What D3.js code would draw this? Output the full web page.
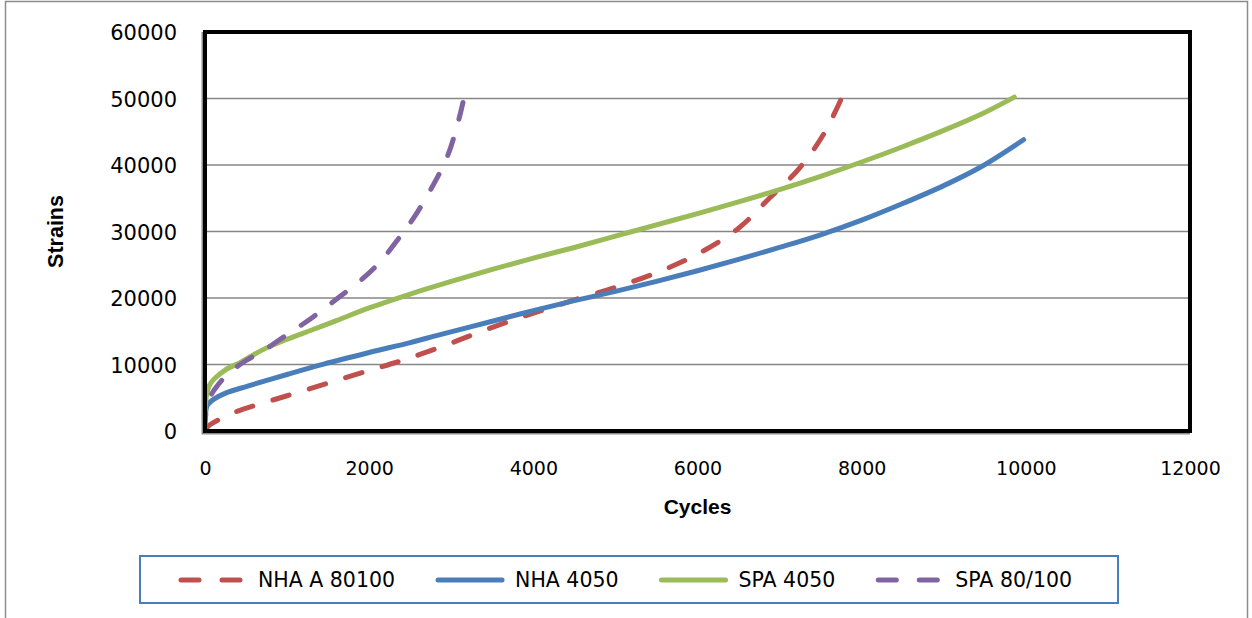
<!DOCTYPE html>
<html>
<head>
<meta charset="utf-8">
<script src="https://cdn.jsdelivr.net/npm/d3@7/dist/d3.min.js"></script>
<style>
  html, body { margin: 0; padding: 0; background: #ffffff; }
  svg { display: block; }
</style>
</head>
<body>
<svg id="chart" width="1252" height="618"></svg>
<script>
// Series: [cycles, strains]
const nhaA80100 = [
  [0, 0], [36, 700], [200, 1900], [400, 3000], [650, 4000], [1000, 5300],
  [1500, 7200], [2000, 9100], [2400, 10600], [2866, 12600], [3350, 14900],
  [3800, 16900], [4200, 18500], [4600, 20100], [5000, 21600], [5500, 23800],
  [6000, 26600], [6500, 30500], [6875, 35000], [7240, 39500],
  [7540, 44700], [7760, 50200]
];
const nha4050 = [
  [0, 1500], [10, 3000], [30, 3900], [109, 4800], [250, 5700], [520, 6750],
  [1000, 8500], [1445, 10050], [2000, 11800], [2500, 13300], [2866, 14500],
  [3500, 16500], [4000, 18100], [4500, 19600], [5000, 21000], [5500, 22500],
  [6000, 24100], [6500, 25800], [7000, 27600], [7500, 29500], [8000, 31700],
  [8500, 34200], [9000, 36900], [9450, 39700], [9972, 43800]
];
const spa4050 = [
  [0, 3000], [20, 5500], [50, 6800], [109, 7800], [250, 9200], [437, 10350],
  [700, 12200], [1000, 13800], [1324, 15300], [1600, 16600], [2000, 18500],
  [2500, 20600], [3000, 22500], [3500, 24300], [4000, 26000], [4500, 27600],
  [5000, 29300], [5500, 31000], [6000, 32700], [6500, 34450], [7000, 36300],
  [7500, 38300], [8000, 40450], [8500, 42750], [9000, 45200], [9500, 47900],
  [9860, 50200]
];
const spa80100 = [
  [0, 0], [10, 2500], [50, 4800], [150, 6800], [300, 8800], [500, 10600],
  [700, 12000], [1000, 14500], [1300, 17000], [1600, 19800], [1900, 22700],
  [2138, 25500], [2380, 29300], [2540, 32000], [2745, 36200], [2950, 41200],
  [3085, 46500], [3150, 49800]
];

const seriesNames = ["NHA A 80100", "NHA 4050", "SPA 4050", "SPA 80/100"];
const seriesData = [nhaA80100, nha4050, spa4050, spa80100];
const seriesColors = ["#c0504d", "#4a7ebb", "#9bbb59", "#8064a2"];
const seriesDashed = [true, false, false, true];

const xTicks = [0, 2000, 4000, 6000, 8000, 10000, 12000];
const yTicks = [0, 10000, 20000, 30000, 40000, 50000, 60000];
const xTitle = "Cycles";
const yTitle = "Strains";

const svg = d3.select("#chart");

// Outer chart frame
svg.append("rect")
  .attr("x", 5.5).attr("y", 1.5)
  .attr("width", 1242).attr("height", 640)
  .attr("fill", "none").attr("stroke", "#8c8c8c").attr("stroke-width", 1.5);

const plot = { left: 205, right: 1190, top: 32, bottom: 431 };

const x = d3.scaleLinear().domain([0, 12000]).range([plot.left, plot.right]);
const y = d3.scaleLinear().domain([0, 60000]).range([plot.bottom, plot.top]);

// Horizontal gridlines
svg.append("g")
  .selectAll("line")
  .data(yTicks.filter(t => t > 0 && t < 60000))
  .join("line")
  .attr("x1", plot.left).attr("x2", plot.right)
  .attr("y1", d => y(d)).attr("y2", d => y(d))
  .attr("stroke", "#868686").attr("stroke-width", 1.5);

// Y axis labels
const yAxis = d3.axisLeft(y).tickValues(yTicks).tickSize(0).tickPadding(0)
  .tickFormat(d3.format("d"));
const gy = svg.append("g").attr("transform", `translate(177,0)`).call(yAxis);
gy.select(".domain").remove();
gy.selectAll("text")
  .attr("font-family", "DejaVu Sans")
  .attr("font-size", 21)
  .attr("fill", "#000")
  .attr("dy", "0.36em");

// X axis labels
const xAxis = d3.axisBottom(x).tickValues(xTicks).tickSize(0).tickPadding(0)
  .tickFormat(d3.format("d"));
const gx = svg.append("g").attr("transform", `translate(0,461)`).call(xAxis);
gx.select(".domain").remove();
gx.selectAll("text")
  .attr("font-family", "DejaVu Sans")
  .attr("font-size", 19)
  .attr("fill", "#000")
  .attr("dy", "0.72em");

// Axis titles
svg.append("text")
  .attr("x", (plot.left + plot.right) / 2).attr("y", 514)
  .attr("text-anchor", "middle")
  .attr("font-family", "Liberation Sans, Arial, sans-serif")
  .attr("font-weight", "bold").attr("font-size", 21)
  .text(xTitle);
svg.append("text")
  .attr("transform", `translate(63,${(plot.top + plot.bottom) / 2}) rotate(-90)`)
  .attr("text-anchor", "middle")
  .attr("font-family", "Liberation Sans, Arial, sans-serif")
  .attr("font-weight", "bold").attr("font-size", 21.5)
  .text(yTitle);

// Series lines
const line = d3.line()
  .x(d => x(d[0]))
  .y(d => y(d[1]))
  .curve(d3.curveCatmullRom.alpha(0.5));

const gLines = svg.append("g");
seriesData.forEach((data, i) => {
  gLines.append("path")
    .datum(data)
    .attr("d", line)
    .attr("fill", "none")
    .attr("stroke", seriesColors[i])
    .attr("stroke-width", 5)
    .attr("stroke-linecap", "round")
    .attr("stroke-linejoin", "round")
    .attr("stroke-dasharray", seriesDashed[i] ? "17,21" : null);
});

// Plot area border with soft grey edge on left and bottom
svg.append("path")
  .attr("d", `M${plot.left - 2.5},${plot.top} L${plot.left - 2.5},${plot.bottom + 2.5} L${plot.right},${plot.bottom + 2.5}`)
  .attr("fill", "none").attr("stroke", "#8c8c8c").attr("stroke-width", 2);
svg.append("rect")
  .attr("x", plot.left).attr("y", plot.top)
  .attr("width", plot.right - plot.left).attr("height", plot.bottom - plot.top)
  .attr("fill", "none").attr("stroke", "#000").attr("stroke-width", 4);

// Legend
const legendBox = { x: 140, y: 556, w: 978, h: 47 };
svg.append("rect")
  .attr("x", legendBox.x).attr("y", legendBox.y)
  .attr("width", legendBox.w).attr("height", legendBox.h)
  .attr("fill", "#fff").attr("stroke", "#4a7ebb").attr("stroke-width", 2);

const legendY = 580;
let lx = 181;
seriesNames.forEach((name, i) => {
  const g = svg.append("g");
  g.append("line")
    .attr("x1", lx).attr("x2", lx + 64)
    .attr("y1", legendY).attr("y2", legendY)
    .attr("stroke", seriesColors[i]).attr("stroke-width", 5)
    .attr("stroke-linecap", "round")
    .attr("stroke-dasharray", seriesDashed[i] ? "18,23" : null);
  const t = g.append("text")
    .attr("x", lx + 77).attr("y", legendY + 7)
    .attr("font-family", "DejaVu Sans")
    .attr("font-size", 20.5)
    .attr("fill", "#000")
    .text(name);
  lx = lx + 77 + t.node().getComputedTextLength() + 43;
});
</script>
</body>
</html>
